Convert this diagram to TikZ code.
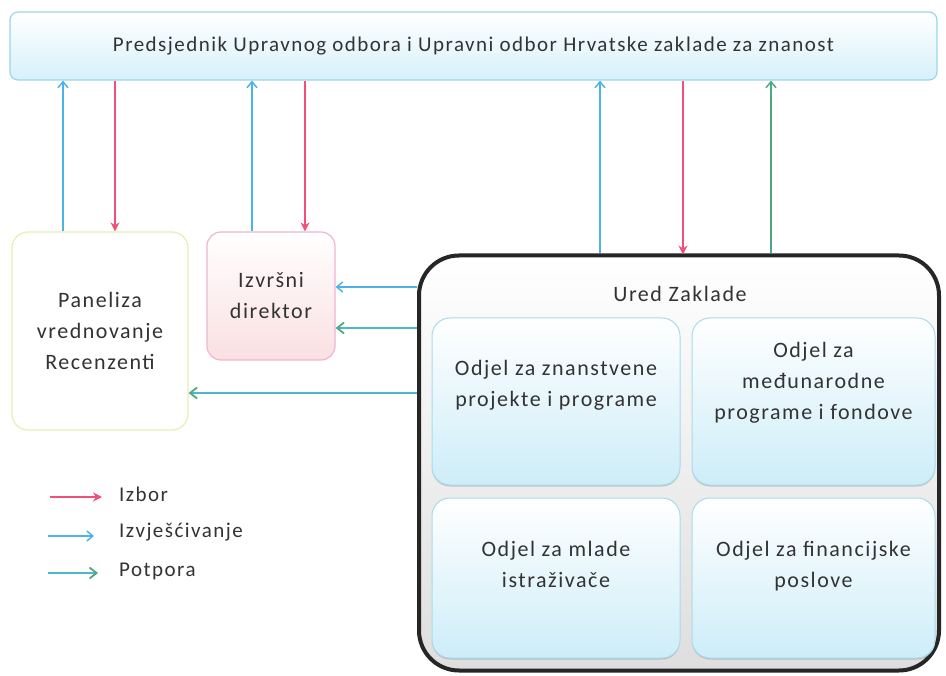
\documentclass[tikz,border=0pt]{standalone}
\usepackage{fontspec}
\setmainfont{Carlito}[LetterSpace=7]
\usetikzlibrary{arrows.meta,shadings,shadows}
\definecolor{cred}{HTML}{F0507A}
\definecolor{cblue}{HTML}{4DB3E6}
\definecolor{cgreen}{HTML}{4FA882}
\definecolor{cteal}{HTML}{4DB8C8}
\definecolor{topfill}{HTML}{D6F1FA}
\definecolor{topdraw}{HTML}{9AD6EA}
\definecolor{inndraw}{HTML}{A8DCEC}
\definecolor{innfill}{HTML}{CDEDF8}
\definecolor{pinkdraw}{HTML}{F2B4D2}
\definecolor{pinkfill}{HTML}{FBE0E2}
\definecolor{paneldraw}{HTML}{E6F0B4}
\definecolor{txt}{HTML}{333333}
\begin{document}
\begin{tikzpicture}[x=1pt,y=-1pt,
  box/.style={draw,rectangle,inner sep=0pt,align=center,text=txt,font=\fontsize{22}{31}\selectfont},
  topbox/.style={box,draw=topdraw,line width=1.2pt,rounded corners=8pt,top color=white,bottom color=topfill,
    font=\fontsize{21}{25}\selectfont},
  innbox/.style={box,draw=inndraw,line width=1pt,rounded corners=18pt,top color=white,bottom color=innfill,
    drop shadow={shadow xshift=0pt,shadow yshift=-1.5pt,fill=black!35,opacity=0.6}},
  arr/.style={line width=1.8pt,-{Stealth[length=9pt,width=9pt]}},
  redarr/.style={arr,draw=cred,fill=cred},
  bluearr/.style={arr,draw=cblue,line width=1.5pt,-{Straight Barb[length=6pt,width=10pt,line width=1.5pt]}},
  greenarr/.style={arr,draw=cgreen,line width=1.5pt,-{Straight Barb[length=6pt,width=10pt,line width=1.5pt]}},
  tealarr/.style={arr,draw=cteal,line width=2.2pt,-{Straight Barb[length=7pt,width=11pt,line width=1.8pt,color=cgreen]}},
  legtext/.style={anchor=west,text=txt,inner sep=0pt,font=\fontsize{21}{24}\selectfont}
]
\useasboundingbox (0,0) rectangle (946,676);
\fill[white] (0,0) rectangle (946,676);

% nodes
\node[topbox,minimum width=927pt,minimum height=68pt] (top) at (473.5,46)
  {Predsjednik Upravnog odbora i Upravni odbor Hrvatske zaklade za znanost};
\node[box,draw=paneldraw,line width=1.2pt,rounded corners=16pt,fill=white,
  minimum width=176pt,minimum height=198pt] (panel) at (100,331)
  {Paneliza\\vrednovanje\\Recenzenti};
\node[box,draw=pinkdraw,line width=1.2pt,rounded corners=14pt,top color=white,bottom color=pinkfill,
  minimum width=128pt,minimum height=128pt] (izv) at (271,296)
  {Izvršni\\direktor};
\node[draw=black!85,line width=4pt,rounded corners=40pt,top color=white,bottom color=black!13,
  minimum width=520pt,minimum height=415pt,inner sep=0pt] (ured) at (679,463) {};
\node[text=txt,font=\fontsize{22}{26}\selectfont,inner sep=0pt] (uredlbl) at (680,294) {Ured Zaklade};
\node[innbox,minimum width=248pt,minimum height=167pt] (o1) at (556,401.5)
  {Odjel za znanstvene\\projekte i programe\\[6pt]};
\node[innbox,minimum width=243pt,minimum height=167pt] (o2) at (813.5,401.5)
  {Odjel za\\međunarodne\\programe i fondove\\[10pt]};
\node[innbox,minimum width=248pt,minimum height=160pt] (o3) at (556,578)
  {Odjel za mlade\\istraživače\\[-4pt]};
\node[innbox,minimum width=243pt,minimum height=160pt] (o4) at (813.5,578)
  {Odjel za financijske\\poslove\\[-4pt]};

% vertical connectors
\coordinate (xa) at (63,0);
\coordinate (xb) at (115,0);
\coordinate (xc) at (252,0);
\coordinate (xd) at (305,0);
\coordinate (xe) at (600,0);
\coordinate (xf) at (683,0);
\coordinate (xg) at (771,0);
\draw[bluearr] (panel.north -| xa) -- (top.south -| xa);
\draw[redarr] (top.south -| xb) -- (panel.north -| xb);
\draw[bluearr] (izv.north -| xc) -- (top.south -| xc);
\draw[redarr] (top.south -| xd) -- (izv.north -| xd);
\draw[bluearr] (ured.north -| xe) -- (top.south -| xe);
\draw[redarr] (top.south -| xf) -- ([yshift=-1pt]ured.north -| xf);
\draw[greenarr] (ured.north -| xg) -- (top.south -| xg);

% horizontal connectors
\coordinate (ya) at (0,287);
\coordinate (yb) at (0,328);
\coordinate (yc) at (0,393);
\draw[bluearr] (ured.west |- ya) -- (izv.east |- ya);
\draw[tealarr] (ured.west |- yb) -- (izv.east |- yb);
\draw[tealarr] (ured.west |- yc) -- (panel.east |- yc);

% legend
\coordinate (l1a) at (50,497); \coordinate (l1b) at (102,497);
\coordinate (l2a) at (48,536); \coordinate (l2b) at (94,536);
\coordinate (l3a) at (48,573); \coordinate (l3b) at (98,573);
\draw[redarr] (l1a) -- (l1b);
\draw[bluearr] (l2a) -- (l2b);
\draw[tealarr] (l3a) -- (l3b);
\node[legtext] (lg1) at (119,494) {Izbor};
\node[legtext] (lg2) at (119,532) {Izvješćivanje};
\node[legtext] (lg3) at (119,571) {Potpora};
\end{tikzpicture}
\end{document}
